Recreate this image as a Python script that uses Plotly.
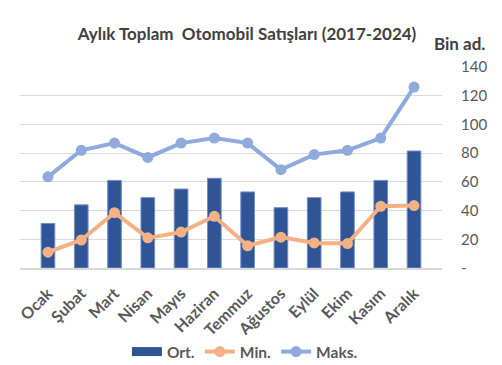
import plotly.graph_objects as go

# Monthly car sales, thousand units (2017-2024)
months = ["Ocak", "Şubat", "Mart", "Nisan", "Mayıs", "Haziran",
          "Temmuz", "Ağustos", "Eylül", "Ekim", "Kasım", "Aralık"]
avg_sales = [31, 44, 61, 49, 55, 62.5, 53, 42, 49, 53, 61, 81.5]
min_sales = [11, 19.5, 38.5, 21, 25, 36, 15.5, 21.5, 17.5, 17, 43, 43.5]
max_sales = [63.5, 82, 87, 77, 87, 90.5, 87, 68.5, 79, 82, 90.5, 126]

y_ticks = [0, 20, 40, 60, 80, 100, 120, 140]
y_tick_text = ["-", "20", "40", "60", "80", "100", "120", "140"]

FONT = "Lato"
GREY = "#595959"
BAR_BLUE = "#2F5597"

fig = go.Figure()
fig.add_trace(go.Bar(
    x=months, y=avg_sales, name="Ort.", showlegend=False,
    marker=dict(color=BAR_BLUE, line=dict(color="#6F8FC9", width=1)),
    width=0.41,
))
# wide rectangular legend key for the bar series
fig.add_trace(go.Scatter(
    x=[None], y=[None], name="<b>Ort.</b>", mode="lines",
    line=dict(color=BAR_BLUE, width=9),
))
fig.add_trace(go.Scatter(
    x=months, y=min_sales, name="<b>Min.</b>", mode="lines+markers",
    line=dict(color="#F4B183", width=4),
    marker=dict(color="#F4B183", size=11),
))
fig.add_trace(go.Scatter(
    x=months, y=max_sales, name="<b>Maks.</b>", mode="lines+markers",
    line=dict(color="#8FAADC", width=4),
    marker=dict(color="#8FAADC", size=11),
))

fig.update_layout(
    width=502, height=365,
    margin=dict(l=20, r=60, t=67, b=97, autoexpand=False),
    paper_bgcolor="white", plot_bgcolor="white",
    font=dict(family=FONT, color=GREY, size=14),
    title=dict(
        text="<b>Aylık Toplam  Otomobil Satışları (2017-2024)</b>",
        x=0.492, xanchor="center", y=1 - 34 / 365, yanchor="middle",
        font=dict(family=FONT, size=17, color="#404040"),
    ),
    showlegend=True,
    legend=dict(
        orientation="h", x=0.533, xanchor="center",
        yref="container", y=1 - 352 / 365, yanchor="middle",
        font=dict(family=FONT, size=15.5, color=GREY),
        traceorder="normal",
    ),
    xaxis=dict(
        tickangle=-45, tickfont=dict(family=FONT, size=16, color=GREY),
        showgrid=False, showline=True, linecolor="#D9D9D9", linewidth=2,
        ticks="", tickprefix="<b>", ticksuffix="</b>", automargin=False,
        ticklabelstandoff=8,
    ),
    yaxis=dict(
        side="right", range=[0, 140], tickvals=y_ticks, ticktext=y_tick_text,
        tickfont=dict(family=FONT, size=15, color=GREY),
        tickprefix="<b>", ticksuffix="</b>",
        showgrid=True, gridcolor="#D9D9D9", gridwidth=1,
        zeroline=False, showline=False, ticks="", ticklabelstandoff=18,
        automargin=False,
    ),
    annotations=[dict(
        text="<b>Bin ad.</b>", xref="paper", yref="paper",
        x=(432 - 20) / 422, y=(268 - 44) / 201, xanchor="left", yanchor="middle",
        showarrow=False, font=dict(family=FONT, size=17, color="#404040"),
    )],
)

fig.write_html("out.html")
